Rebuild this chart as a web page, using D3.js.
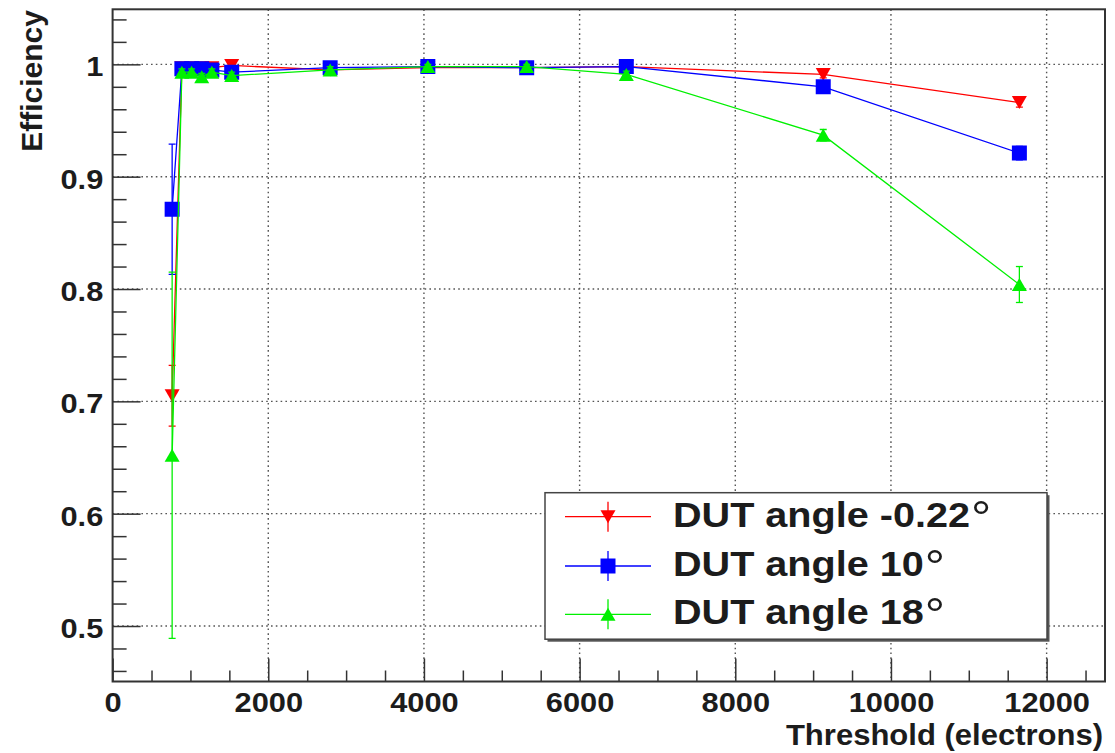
<!DOCTYPE html>
<html>
<head>
<meta charset="utf-8">
<script src="https://cdn.jsdelivr.net/npm/d3@7"></script>
<style>
  html, body { margin: 0; padding: 0; background: #fff; }
  svg { display: block; font-family: "Liberation Sans", Arial, Helvetica, sans-serif; }
</style>
</head>
<body>
<svg id="chart" width="1115" height="753"></svg>
<script>
// Threshold scan: efficiency vs. threshold for three DUT angles
const thresholds = [765, 890, 1015, 1145, 1275, 1530, 2795, 4050, 5320, 6600, 9130, 11650];

const effRed   = [0.705, 0.997, 0.997, 0.997, 0.997, 0.999, 0.995, 0.997, 0.997, 0.998, 0.991, 0.966];
const errRed   = [0.027, 0.002, 0.002, 0.002, 0.002, 0.002, 0.002, 0.002, 0.002, 0.002, 0.003, 0.004];

const effBlue  = [0.871, 0.996, 0.996, 0.996, 0.995, 0.993, 0.997, 0.998, 0.997, 0.998, 0.980, 0.921];
const errBlue  = [0.058, 0.002, 0.002, 0.002, 0.002, 0.002, 0.002, 0.002, 0.002, 0.002, 0.004, 0.006];

const effGreen = [0.652, 0.993, 0.993, 0.989, 0.993, 0.990, 0.995, 0.998, 0.998, 0.991, 0.937, 0.804];
const errGreen = [0.163, 0.003, 0.003, 0.003, 0.003, 0.003, 0.003, 0.002, 0.002, 0.003, 0.005, 0.016];

const seriesNames  = ["DUT angle -0.22", "DUT angle 10", "DUT angle 18"];
const seriesColors = ["#ff0000", "#0000ff", "#00f000"];
const seriesShapes = ["triDown", "square", "triUp"];

const xTicksMajor = [0, 2000, 4000, 6000, 8000, 10000, 12000];
const yTicksMajor = [0.5, 0.6, 0.7, 0.8, 0.9, 1.0];

const xTitle = "Threshold (electrons)";
const yTitle = "Efficiency";

const series = [
  { name: seriesNames[0], color: seriesColors[0], shape: seriesShapes[0], y: effRed,   e: errRed },
  { name: seriesNames[1], color: seriesColors[1], shape: seriesShapes[1], y: effBlue,  e: errBlue },
  { name: seriesNames[2], color: seriesColors[2], shape: seriesShapes[2], y: effGreen, e: errGreen }
];

// frame geometry
const L = 112.6, R = 1105, T = 9.3, B = 681.5;
const svg = d3.select("#chart");
svg.append("rect").attr("width", 1115).attr("height", 753).attr("fill", "#fff");

const x = d3.scaleLinear().domain([0, 12750]).range([L, R]);
const y = d3.scaleLinear().domain([0.4506, 1.049]).range([B, T]);

const frameColor = "#333";
const textColor = "#1c1c1c";
const stretch = 1.1;

// dotted grid at major ticks
const grid = svg.append("g").attr("stroke", "#555").attr("stroke-width", 1.4)
  .attr("stroke-dasharray", "1.6,3.2");
grid.selectAll("line.gx").data(xTicksMajor.filter(v => v > 0)).join("line")
  .attr("x1", d => x(d)).attr("x2", d => x(d)).attr("y1", T).attr("y2", B);
grid.selectAll("line.gy").data(yTicksMajor).join("line")
  .attr("x1", L).attr("x2", R).attr("y1", d => y(d)).attr("y2", d => y(d));

// minor ticks
const xMinor = d3.range(0, 12751, 500).filter(v => v % 2000 !== 0);
const yMinor = d3.range(46, 105, 2).map(v => v / 100).filter(v => v >= 0.4506 && Math.round(v * 100) % 10 !== 0);

const xMinorAxis = d3.axisBottom(x).tickValues(xMinor).tickSize(-11).tickFormat("");
const yMinorAxis = d3.axisLeft(y).tickValues(yMinor).tickSize(-14).tickFormat("");

svg.append("g").attr("transform", `translate(0,${B})`).call(xMinorAxis)
  .call(g => g.select(".domain").remove())
  .call(g => g.selectAll("line").attr("stroke", frameColor).attr("stroke-width", 1.5));
svg.append("g").attr("transform", `translate(${L},0)`).call(yMinorAxis)
  .call(g => g.select(".domain").remove())
  .call(g => g.selectAll("line").attr("stroke", frameColor).attr("stroke-width", 1.5));

// major ticks and labels
const xAxis = d3.axisBottom(x).tickValues(xTicksMajor).tickSize(-23).tickFormat(d3.format("d"));
const yAxis = d3.axisLeft(y).tickValues(yTicksMajor).tickSize(-28).tickFormat(d => d3.format("")(+d.toFixed(1)));

svg.append("g").attr("transform", `translate(0,${B})`).call(xAxis)
  .call(g => g.select(".domain").remove())
  .call(g => g.selectAll("line").attr("stroke", frameColor).attr("stroke-width", 1.5))
  .call(g => g.selectAll("text")
    .attr("y", 0).attr("dy", null)
    .attr("transform", `translate(0,30.2) scale(${stretch},1)`)
    .attr("fill", textColor).attr("font-size", 28).attr("font-weight", "bold")
    .attr("font-family", "'Liberation Sans', Arial, sans-serif"));

svg.append("g").attr("transform", `translate(${L},0)`).call(yAxis)
  .call(g => g.select(".domain").remove())
  .call(g => g.selectAll("line").attr("stroke", frameColor).attr("stroke-width", 1.5))
  .call(g => g.selectAll("text")
    .attr("x", 0).attr("dy", null).attr("y", 0)
    .attr("text-anchor", "end")
    .attr("transform", `translate(-9.3,11.6) scale(${stretch},1)`)
    .attr("fill", textColor).attr("font-size", 28).attr("font-weight", "bold")
    .attr("font-family", "'Liberation Sans', Arial, sans-serif"));

// frame
svg.append("rect").attr("x", L).attr("y", T).attr("width", R - L).attr("height", B - T)
  .attr("fill", "none").attr("stroke", frameColor).attr("stroke-width", 2);

// axis titles
svg.append("text").attr("text-anchor", "end")
  .attr("transform", `translate(${R - 2},745) scale(1.07,1)`)
  .attr("fill", textColor).attr("font-size", 29).attr("font-weight", "bold")
  .text(xTitle);
svg.append("text").attr("text-anchor", "end")
  .attr("transform", `translate(41.5,10) rotate(-90)`)
  .attr("fill", textColor).attr("font-size", 30).attr("font-weight", "bold")
  .text(yTitle);

// marker shapes
const MS = 15;
function markerPath(shape, cx, cy) {
  const h = MS / 2;
  if (shape === "square") {
    return `M${cx - h},${cy - h}H${cx + h}V${cy + h}H${cx - h}Z`;
  }
  const th = MS * 0.87 / 2;
  if (shape === "triUp") {
    return `M${cx},${cy - th}L${cx + h},${cy + th}L${cx - h},${cy + th}Z`;
  }
  return `M${cx},${cy + th}L${cx + h},${cy - th}L${cx - h},${cy - th}Z`;
}

// plot area clip
svg.append("clipPath").attr("id", "plotClip").append("rect")
  .attr("x", L).attr("y", T).attr("width", R - L).attr("height", B - T);
const plot = svg.append("g").attr("clip-path", "url(#plotClip)");

const line = d3.line().x(d => x(d.x)).y(d => y(d.y));

series.forEach(s => {
  const pts = thresholds.map((t, i) => ({ x: t, y: s.y[i], e: s.e[i] }));
  const g = plot.append("g");
  g.append("path").datum(pts).attr("d", line)
    .attr("fill", "none").attr("stroke", s.color).attr("stroke-width", 1.3);
  // error bars with caps
  const eb = g.selectAll("g.eb").data(pts).join("g")
    .attr("stroke", s.color).attr("stroke-width", 1.3);
  eb.append("line")
    .attr("x1", d => x(d.x)).attr("x2", d => x(d.x))
    .attr("y1", d => y(d.y - d.e)).attr("y2", d => y(d.y + d.e));
  eb.append("line")
    .attr("x1", d => x(d.x) - 3.5).attr("x2", d => x(d.x) + 3.5)
    .attr("y1", d => y(d.y - d.e)).attr("y2", d => y(d.y - d.e));
  eb.append("line")
    .attr("x1", d => x(d.x) - 3.5).attr("x2", d => x(d.x) + 3.5)
    .attr("y1", d => y(d.y + d.e)).attr("y2", d => y(d.y + d.e));
  g.selectAll("path.m").data(pts).join("path").attr("class", "m")
    .attr("d", d => markerPath(s.shape, x(d.x), y(d.y)))
    .attr("fill", s.color);
});

// legend
const lx = 545, ly = 492.7, lw = 502, lh = 146.5;
svg.append("rect").attr("x", lx + 2.5).attr("y", ly + 2.5).attr("width", lw).attr("height", lh)
  .attr("fill", "#555");
svg.append("rect").attr("x", lx).attr("y", ly).attr("width", lw).attr("height", lh)
  .attr("fill", "#fff").attr("stroke", "#444").attr("stroke-width", 1.5);

const rowY = [516.7, 566, 614.3];
series.forEach((s, i) => {
  const cy = rowY[i];
  const g = svg.append("g");
  g.append("line").attr("x1", 565).attr("x2", 651).attr("y1", cy).attr("y2", cy)
    .attr("stroke", s.color).attr("stroke-width", 1.3);
  g.append("line").attr("x1", 608).attr("x2", 608).attr("y1", cy - 15).attr("y2", cy + 15)
    .attr("stroke", s.color).attr("stroke-width", 1.3);
  g.append("path").attr("d", markerPath(s.shape, 608, cy)).attr("fill", s.color);
  const t = g.append("text")
    .attr("transform", `translate(673,${cy + 10}) scale(1.1,1)`)
    .attr("fill", textColor).attr("font-size", 36).attr("font-weight", "bold")
    .text(s.name);
  t.append("tspan").attr("font-weight", "normal").attr("font-size", 46)
    .attr("dx", 1).attr("dy", 7).text("°");
});
</script>
</body>
</html>
